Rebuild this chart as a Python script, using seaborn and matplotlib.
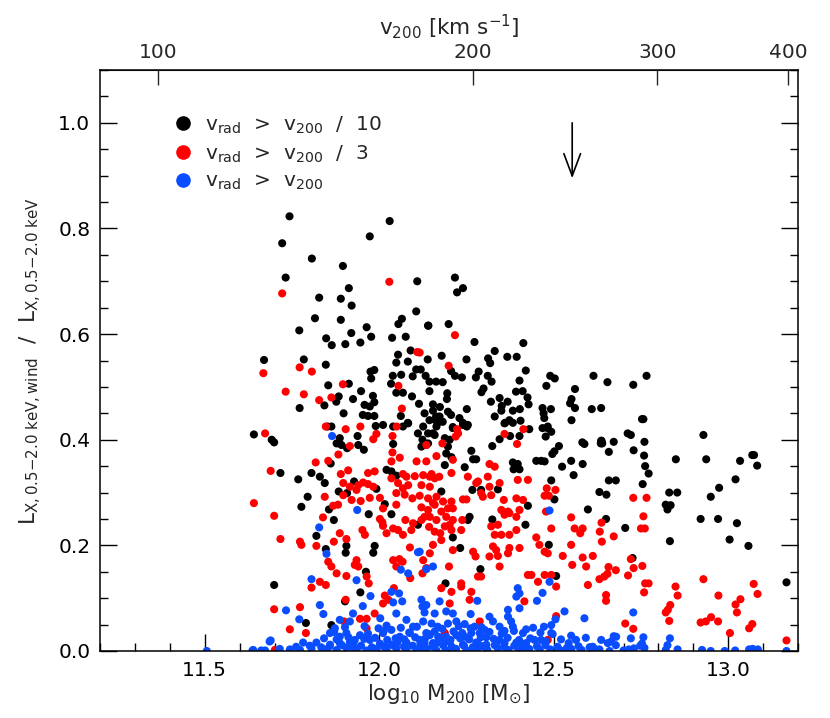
import numpy as np
import pandas as pd
import seaborn as sns
import matplotlib.pyplot as plt
from matplotlib.ticker import MultipleLocator, NullLocator
from matplotlib.lines import Line2D

# v_rad > v200/10
black_x = [11.743, 12.030, 11.973, 11.722, 11.807, 11.896, 11.732, 12.109, 11.913, 11.828, 11.890, 11.921,
           12.106, 11.816, 11.890, 12.065, 12.055, 12.140, 11.771, 11.964, 11.920, 11.848, 11.977, 12.037,
           12.076, 11.864, 11.903, 11.946, 11.670, 11.784, 11.847, 12.054, 12.090, 12.049, 12.082, 12.106,
           12.139, 11.986, 11.975, 11.977, 12.039, 12.063, 12.096, 12.133, 12.163, 11.854, 11.913, 12.034,
           12.068, 12.049, 11.884, 11.925, 11.948, 11.982, 12.094, 12.144, 11.772, 11.843, 11.877, 11.898,
           11.958, 11.973, 11.986, 12.114, 12.130, 12.154, 11.953, 11.968, 11.986, 12.062, 12.082, 12.144,
           12.163, 11.990, 12.040, 12.068, 11.852,
           12.217, 12.240, 12.223, 12.141, 12.199, 12.273, 12.413, 12.331, 12.179, 12.250, 12.312, 12.318,
           12.367, 12.394, 12.119, 12.206, 12.217, 12.237, 12.285, 12.277, 12.311, 12.322, 12.420, 12.144,
           12.182, 12.402, 12.490, 12.503, 12.614, 12.654, 12.479, 12.561, 12.195, 12.194, 12.299, 12.293,
           12.392, 12.411, 12.425, 12.345, 12.320, 12.368, 12.428, 12.551, 12.547, 12.154, 12.174, 12.251,
           12.351, 12.350, 12.331, 12.383, 12.403, 12.468, 12.471, 12.473, 12.492, 12.561, 12.609, 12.636,
           12.551, 12.173, 12.197, 12.206, 12.161, 12.182, 12.230, 12.240, 12.251, 12.211, 12.361, 12.373,
           12.405, 12.430, 12.468, 12.482,
           12.728, 12.766, 12.753, 12.757, 12.712, 12.721, 12.637, 12.635, 12.672, 12.760, 12.929, 12.658,
           12.729, 12.759, 12.850, 12.937, 13.034, 13.069, 13.074, 13.083, 12.762, 12.772, 12.658, 12.678,
           13.021, 12.755, 12.974, 12.631, 12.651, 12.831, 12.854, 12.950, 12.821, 12.835, 12.826, 12.650,
           12.921, 12.971, 13.025, 12.705, 12.833, 13.004, 13.058, 12.726, 13.167,
           11.641, 11.692, 11.699, 11.863, 11.887, 11.878, 11.892, 11.938, 11.940, 11.956, 11.908, 12.011,
           12.040, 12.083, 12.111, 12.124, 12.140, 12.121, 12.154, 12.164, 11.861, 11.717, 11.768, 11.806,
           11.830, 11.844, 11.928, 11.884, 11.908, 11.992, 12.021, 12.035, 12.049, 11.795, 11.777, 11.856,
           12.016, 11.970, 12.035, 11.870, 11.820, 12.111, 11.906, 11.904, 11.847, 11.987, 11.983, 11.962,
           11.699, 11.946, 11.902, 11.790, 11.863,
           12.126, 12.140, 12.135, 12.173, 12.159, 12.211, 12.240, 12.254, 12.188, 12.202, 12.197, 12.192,
           12.207, 12.188, 12.245, 12.264, 12.269, 12.278, 12.324, 12.345, 12.359, 12.383, 12.375, 12.402,
           12.383, 12.397, 12.385, 12.402, 12.450, 12.464, 12.474, 12.483, 12.493, 12.477, 12.515, 12.502,
           12.496, 12.550, 12.582, 12.588, 12.636, 12.639, 12.524, 12.583, 12.557, 12.493, 12.598, 12.502,
           12.426, 12.259, 12.254, 12.324, 12.419, 12.267, 12.292, 12.340, 12.178, 12.211, 12.232, 12.290,
           12.190, 12.486, 12.507]
black_y = [0.823, 0.814, 0.785, 0.772, 0.743, 0.729, 0.707, 0.700, 0.687, 0.669, 0.667, 0.654,
           0.643, 0.630, 0.627, 0.629, 0.619, 0.616, 0.607, 0.613, 0.602, 0.592, 0.595, 0.593,
           0.595, 0.579, 0.581, 0.584, 0.551, 0.552, 0.542, 0.561, 0.569, 0.546, 0.548, 0.533,
           0.552, 0.532, 0.529, 0.516, 0.521, 0.523, 0.520, 0.521, 0.510, 0.503, 0.506, 0.506,
           0.489, 0.489, 0.482, 0.477, 0.492, 0.483, 0.482, 0.492, 0.460, 0.465, 0.472, 0.450,
           0.466, 0.463, 0.471, 0.468, 0.450, 0.455, 0.447, 0.445, 0.445, 0.445, 0.432, 0.437,
           0.444, 0.426, 0.425, 0.425, 0.425,
           0.707, 0.687, 0.679, 0.616, 0.619, 0.585, 0.583, 0.568, 0.559, 0.552, 0.554, 0.545,
           0.557, 0.557, 0.533, 0.530, 0.521, 0.518, 0.529, 0.518, 0.521, 0.510, 0.531, 0.510,
           0.509, 0.512, 0.521, 0.516, 0.521, 0.509, 0.502, 0.496, 0.488, 0.477, 0.497, 0.490,
           0.491, 0.492, 0.480, 0.479, 0.472, 0.472, 0.467, 0.477, 0.469, 0.467, 0.462, 0.458,
           0.464, 0.455, 0.444, 0.455, 0.458, 0.460, 0.450, 0.441, 0.458, 0.460, 0.458, 0.460,
           0.437, 0.444, 0.453, 0.447, 0.437, 0.434, 0.441, 0.432, 0.425, 0.422, 0.432, 0.437,
           0.436, 0.420, 0.422, 0.422,
           0.504, 0.521, 0.439, 0.439, 0.412, 0.409, 0.398, 0.393, 0.396, 0.396, 0.409, 0.377,
           0.380, 0.370, 0.363, 0.363, 0.360, 0.371, 0.371, 0.351, 0.350, 0.336, 0.323, 0.323,
           0.325, 0.316, 0.309, 0.301, 0.296, 0.300, 0.300, 0.292, 0.277, 0.276, 0.268, 0.250,
           0.250, 0.250, 0.242, 0.233, 0.208, 0.211, 0.199, 0.176, 0.130,
           0.410, 0.400, 0.395, 0.425, 0.403, 0.393, 0.390, 0.407, 0.390, 0.381, 0.384, 0.428,
           0.392, 0.431, 0.412, 0.400, 0.393, 0.387, 0.412, 0.425, 0.355, 0.337, 0.325, 0.337,
           0.330, 0.318, 0.321, 0.302, 0.299, 0.307, 0.343, 0.340, 0.332, 0.292, 0.273, 0.268,
           0.278, 0.259, 0.259, 0.248, 0.218, 0.239, 0.199, 0.186, 0.193, 0.199, 0.186, 0.150,
           0.125, 0.111, 0.094, 0.053, 0.049,
           0.425, 0.412, 0.390, 0.434, 0.409, 0.424, 0.428, 0.428, 0.403, 0.400, 0.387, 0.374,
           0.367, 0.352, 0.348, 0.379, 0.363, 0.363, 0.388, 0.401, 0.431, 0.432, 0.407, 0.407,
           0.357, 0.354, 0.344, 0.344, 0.360, 0.360, 0.359, 0.425, 0.415, 0.406, 0.388, 0.378,
           0.373, 0.360, 0.395, 0.392, 0.398, 0.393, 0.349, 0.354, 0.333, 0.323, 0.268, 0.287,
           0.275, 0.254, 0.248, 0.249, 0.239, 0.305, 0.305, 0.306, 0.302, 0.215, 0.195, 0.155,
           0.128, 0.201, 0.142]

# v_rad > v200/3
red_x = [12.029, 11.722, 12.109, 11.668, 11.772, 11.807, 11.896, 12.055, 11.732, 11.784, 11.828, 11.863,
         12.065, 11.847, 11.946, 12.050, 12.217, 12.199, 12.116, 12.223, 12.413,
         12.728, 12.766, 12.757, 12.637, 12.750, 12.761, 12.632, 12.672, 12.638, 12.721, 12.657, 12.654,
         12.678, 12.729, 12.754, 12.713, 12.631, 12.929, 12.762, 12.772, 12.759, 12.849, 12.855, 12.650,
         12.650, 13.073, 13.084, 12.972, 13.035, 13.021, 13.025, 12.834, 12.821, 12.827, 12.831, 12.921,
         12.936, 12.951, 12.971, 13.069, 13.060, 13.005, 12.705, 12.728, 13.167,
         11.673, 11.904, 11.992, 12.038, 11.983, 11.916, 11.883, 11.854, 11.818, 12.038, 12.035, 12.059,
         12.107, 12.135, 12.164, 11.689, 11.890, 11.911, 11.968, 11.987, 12.035, 12.068, 12.078, 12.102,
         12.126, 12.150, 12.172, 11.897, 11.916, 11.940, 11.954, 11.968, 11.983, 11.935, 12.002, 12.054,
         12.068, 12.083, 12.073, 12.049, 12.121, 12.145, 11.844, 11.897, 11.921, 11.947, 11.973, 12.095,
         12.116, 12.140, 12.164, 11.641, 11.868, 11.882, 12.011, 12.049, 12.121, 12.140, 12.159, 11.699,
         11.839, 12.002, 12.009, 12.075, 12.097, 12.121, 12.145, 12.164, 11.887, 11.952, 11.959, 12.011,
         12.021, 12.040, 12.054, 12.092, 12.068, 12.143, 12.159, 11.717, 11.773, 11.777, 11.820, 11.870,
         11.906, 12.088, 12.154, 11.854, 11.863, 11.878, 11.906, 11.935, 11.930, 11.940, 11.964, 11.970,
         12.040, 12.058, 12.067, 12.049, 12.124, 12.135, 12.089, 11.830, 11.847, 11.806, 12.042, 12.016,
         12.026, 12.011, 11.904, 11.699, 11.773, 11.987, 11.945, 11.964, 11.899, 11.744, 11.790, 11.964,
         11.701,
         12.145, 12.159, 12.154, 12.130, 12.183, 12.207, 12.197, 12.178, 12.211, 12.192, 12.211, 12.202,
         12.188, 12.207, 12.175, 12.178, 12.235, 12.238, 12.145, 12.126, 12.200, 12.211, 12.178, 12.207,
         12.202, 12.235, 12.235, 12.259, 12.264, 12.240, 12.250, 12.226, 12.219, 12.181, 12.135, 12.211,
         12.207, 12.254, 12.278, 12.283, 12.311, 12.316, 12.292, 12.331, 12.345, 12.297, 12.321, 12.357,
         12.369, 12.350, 12.373, 12.359, 12.397, 12.426, 12.393, 12.412, 12.402, 12.393, 12.321, 12.340,
         12.350, 12.331, 12.373, 12.393, 12.373, 12.402, 12.326, 12.335, 12.316, 12.340, 12.369, 12.269,
         12.276, 12.345, 12.283, 12.292, 12.359, 12.395, 12.316, 12.480, 12.505, 12.474, 12.486, 12.478,
         12.450, 12.459, 12.483, 12.474, 12.526, 12.493, 12.426, 12.436, 12.474, 12.493, 12.507, 12.455,
         12.416, 12.550, 12.560, 12.583, 12.576, 12.550, 12.612, 12.583, 12.553, 12.593, 12.645, 12.598,
         12.507, 12.483, 12.288, 12.188]
red_y = [0.699, 0.677, 0.566, 0.526, 0.537, 0.529, 0.505, 0.502, 0.491, 0.486, 0.475, 0.480,
         0.459, 0.425, 0.425, 0.425, 0.598, 0.540, 0.565, 0.420, 0.420,
         0.290, 0.290, 0.255, 0.243, 0.232, 0.232, 0.226, 0.217, 0.207, 0.174, 0.159, 0.146,
         0.153, 0.157, 0.161, 0.143, 0.136, 0.136, 0.128, 0.128, 0.111, 0.122, 0.105, 0.106,
         0.095, 0.127, 0.108, 0.105, 0.098, 0.088, 0.073, 0.087, 0.073, 0.078, 0.057, 0.054,
         0.056, 0.064, 0.056, 0.051, 0.043, 0.034, 0.052, 0.042, 0.020,
         0.412, 0.420, 0.411, 0.407, 0.401, 0.388, 0.372, 0.360, 0.357, 0.376, 0.359, 0.366,
         0.359, 0.390, 0.369, 0.341, 0.335, 0.342, 0.337, 0.340, 0.327, 0.335, 0.330, 0.331,
         0.333, 0.335, 0.330, 0.318, 0.311, 0.314, 0.319, 0.316, 0.311, 0.305, 0.290, 0.318,
         0.308, 0.314, 0.296, 0.299, 0.314, 0.311, 0.292, 0.295, 0.286, 0.284, 0.290, 0.289,
         0.294, 0.289, 0.292, 0.280, 0.275, 0.277, 0.270, 0.277, 0.272, 0.267, 0.277, 0.256,
         0.253, 0.250, 0.244, 0.248, 0.242, 0.248, 0.254, 0.248, 0.223, 0.229, 0.220, 0.237,
         0.223, 0.232, 0.229, 0.229, 0.220, 0.235, 0.226, 0.212, 0.207, 0.201, 0.199, 0.207,
         0.212, 0.196, 0.201, 0.169, 0.160, 0.147, 0.142, 0.172, 0.163, 0.160, 0.141, 0.128,
         0.172, 0.174, 0.169, 0.160, 0.147, 0.157, 0.138, 0.131, 0.125, 0.120, 0.119, 0.105,
         0.097, 0.090, 0.097, 0.079, 0.083, 0.071, 0.061, 0.061, 0.056, 0.041, 0.034, 0.043,
         0.002,
         0.330, 0.327, 0.280, 0.254, 0.283, 0.283, 0.270, 0.264, 0.270, 0.254, 0.248, 0.239,
         0.236, 0.229, 0.223, 0.210, 0.229, 0.248, 0.185, 0.172, 0.160, 0.191, 0.119, 0.112,
         0.090, 0.128, 0.122, 0.097, 0.112, 0.287, 0.287, 0.412, 0.406, 0.393, 0.359, 0.362,
         0.337, 0.330, 0.318, 0.321, 0.330, 0.311, 0.299, 0.349, 0.318, 0.292, 0.295, 0.286,
         0.264, 0.267, 0.261, 0.258, 0.324, 0.324, 0.289, 0.286, 0.267, 0.254, 0.236, 0.239,
         0.220, 0.220, 0.220, 0.229, 0.195, 0.195, 0.198, 0.191, 0.179, 0.180, 0.185, 0.188,
         0.179, 0.160, 0.141, 0.141, 0.411, 0.392, 0.354, 0.308, 0.305, 0.294, 0.294, 0.264,
         0.215, 0.201, 0.185, 0.188, 0.180, 0.232, 0.144, 0.144, 0.144, 0.144, 0.122, 0.131,
         0.094, 0.253, 0.232, 0.232, 0.223, 0.201, 0.180, 0.177, 0.163, 0.160, 0.141, 0.125,
         0.066, 0.021, 0.056, 0.034]

# v_rad > v200
blue_x = [11.865, 11.937, 11.828, 11.849, 12.111, 12.062, 12.083, 12.154, 11.935, 11.806, 11.975, 12.035,
          12.057, 12.040, 12.066, 12.121, 12.124, 12.130, 11.830, 11.733, 11.840, 11.887, 11.925, 11.916,
          12.049, 12.078, 12.097, 12.126, 12.150, 12.159, 11.859, 11.873, 11.887, 11.906, 11.930, 11.945,
          11.973, 11.689, 11.782, 11.820, 12.011, 12.035, 12.059, 12.088, 12.116, 12.145, 12.169,
          11.639, 11.673, 11.715, 11.744, 11.773, 11.806, 11.849, 11.878, 11.906, 11.935, 11.964, 11.992,
          12.021, 12.049, 12.078, 12.107, 12.135, 12.164,
          11.859, 11.887, 11.916, 12.002, 12.030, 12.078, 12.126, 12.154,
          12.135, 12.116, 12.488, 12.488, 12.397, 12.402, 12.393, 12.402, 12.369, 12.369, 12.378, 12.383,
          12.316, 12.326, 12.345, 12.359, 12.302, 12.288, 12.307, 12.588, 12.505, 12.493, 12.493, 12.478,
          12.135, 12.173, 12.192, 12.211, 12.168, 12.197, 12.221, 12.245, 12.273, 12.135, 12.159, 12.192,
          12.221, 12.245, 12.264, 12.421, 12.412, 12.445, 12.464, 12.345, 12.359, 12.393, 12.421, 12.550,
          12.564, 12.612, 12.636, 12.665, 12.679,
          12.130, 12.164, 12.202, 12.240, 12.278, 12.307,
          12.190, 12.220, 12.250, 12.280, 12.310, 12.340, 12.370, 12.400, 12.430, 12.460, 12.490, 12.520,
          12.550, 12.580, 12.620,
          12.728, 12.672, 12.721, 12.757, 12.753, 12.760, 12.748, 12.833, 12.826, 12.821, 12.655, 12.678,
          12.631, 12.660, 12.700, 12.715, 12.730, 12.855, 12.925, 12.950, 12.990, 13.020, 13.060, 13.070,
          13.085, 13.167, 11.506, 11.637, 11.662, 11.686,
          11.762, 11.801, 11.834, 11.858, 11.893, 11.921, 11.948, 11.979, 12.012, 12.038, 12.071, 12.096,
          12.118, 12.152, 12.183, 12.208, 12.243, 12.268, 12.296, 12.331, 12.358, 12.387, 12.418, 12.452,
          12.476, 12.511, 12.538, 12.571, 12.603,
          11.842, 11.878, 11.912, 11.957, 11.988, 12.023, 12.047, 12.072, 12.103, 12.131, 12.177, 12.204,
          12.232, 12.258, 12.291, 12.328, 12.368, 12.401, 12.433, 12.521, 12.592,
          11.902, 11.958, 11.998, 12.021, 12.062, 12.108, 12.181, 12.228, 12.262, 12.293, 12.441, 12.472,
          11.771, 11.953, 12.003, 12.262, 12.281, 12.452, 12.531, 12.468,
          11.871, 11.968, 12.013, 12.086, 12.142, 12.213, 12.238, 12.316, 12.351, 12.386, 12.462, 12.497,
          11.926, 12.052, 12.118, 12.187, 12.283, 12.337, 12.408, 12.543]
blue_y = [0.407, 0.267, 0.234, 0.184, 0.187, 0.154, 0.147, 0.160, 0.134, 0.136, 0.104, 0.112,
          0.109, 0.092, 0.094, 0.097, 0.084, 0.073, 0.087, 0.077, 0.070, 0.059, 0.071, 0.056,
          0.071, 0.059, 0.046, 0.056, 0.052, 0.071, 0.034, 0.043, 0.027, 0.034, 0.021, 0.030,
          0.021, 0.020, 0.016, 0.016, 0.034, 0.040, 0.027, 0.034, 0.021, 0.030, 0.027,
          0.002, 0.001, 0.004, 0.003, 0.002, 0.005, 0.003, 0.002, 0.006, 0.003, 0.001, 0.004,
          0.002, 0.005, 0.003, 0.002, 0.004, 0.001,
          0.012, 0.015, 0.017, 0.014, 0.013, 0.016, 0.012, 0.015,
          0.155, 0.188, 0.266, 0.131, 0.119, 0.109, 0.103, 0.081, 0.078, 0.065, 0.056, 0.046,
          0.065, 0.056, 0.046, 0.038, 0.040, 0.034, 0.026, 0.062, 0.060, 0.049, 0.034, 0.018,
          0.087, 0.094, 0.075, 0.071, 0.046, 0.052, 0.056, 0.051, 0.046, 0.034, 0.037, 0.027,
          0.030, 0.027, 0.034, 0.041, 0.034, 0.021, 0.021, 0.021, 0.015, 0.016, 0.015, 0.029,
          0.021, 0.008, 0.021, 0.018, 0.027,
          0.015, 0.015, 0.017, 0.012, 0.016, 0.012,
          0.002, 0.004, 0.001, 0.003, 0.002, 0.005, 0.002, 0.001, 0.004, 0.002, 0.003, 0.001,
          0.004, 0.002, 0.003,
          0.073, 0.028, 0.024, 0.026, 0.014, 0.006, 0.010, 0.024, 0.011, 0.002, 0.015, 0.011,
          0.003, 0.000, 0.001, 0.003, 0.005, 0.003, 0.002, 0.000, 0.000, 0.001, 0.003, 0.004,
          0.003, 0.000, 0.000, 0.001, 0.001, 0.018,
          0.008, 0.010, 0.007, 0.009, 0.011, 0.008, 0.010, 0.007, 0.009, 0.011, 0.008, 0.010,
          0.006, 0.009, 0.011, 0.008, 0.010, 0.007, 0.009, 0.011, 0.008, 0.010, 0.007, 0.009,
          0.011, 0.008, 0.006, 0.009, 0.007,
          0.024, 0.022, 0.026, 0.023, 0.025, 0.021, 0.024, 0.022, 0.026, 0.023, 0.025, 0.021,
          0.024, 0.022, 0.026, 0.023, 0.025, 0.021, 0.024, 0.022, 0.025,
          0.045, 0.047, 0.043, 0.048, 0.044, 0.046, 0.042, 0.047, 0.043, 0.045, 0.044, 0.046,
          0.060, 0.085, 0.062, 0.070, 0.095, 0.095, 0.075, 0.110,
          0.036, 0.033, 0.038, 0.035, 0.032, 0.037, 0.034, 0.036, 0.033, 0.038, 0.035, 0.032,
          0.014, 0.016, 0.013, 0.017, 0.014, 0.016, 0.013, 0.015]

labels = [r"v$_{\rm rad}$  >  v$_{200}$  /  10", r"v$_{\rm rad}$  >  v$_{200}$  /  3", r"v$_{\rm rad}$  >  v$_{200}$"]
colors = ["#000000", "#ff0000", "#0a4dff"]

# log10 M200 = 3 log10 v200 + c
vm_offset = 5.366
arrow_x = 12.553

df = pd.concat([
    pd.DataFrame({"logM": black_x, "ratio": black_y, "sel": labels[0]}),
    pd.DataFrame({"logM": red_x, "ratio": red_y, "sel": labels[1]}),
    pd.DataFrame({"logM": blue_x, "ratio": blue_y, "sel": labels[2]}),
], ignore_index=True)

sns.set_style("ticks")
plt.rcParams['font.family'] = ['DejaVu Sans']
plt.rcParams['mathtext.fontset'] = 'dejavusans'

fig = plt.figure(figsize=(8.3, 7.18), dpi=100)
ax = fig.add_axes([100 / 830, 67 / 718, 698 / 830, 581 / 718])

sns.scatterplot(data=df, x="logM", y="ratio", hue="sel", palette=dict(zip(labels, colors)),
                s=34, linewidth=0, edgecolor="none", legend=False, ax=ax)

ax.set_xlim(11.2, 13.2)
ax.set_ylim(0, 1.1)
ax.xaxis.set_major_locator(MultipleLocator(0.5))
ax.xaxis.set_minor_locator(MultipleLocator(0.1))
ax.yaxis.set_major_locator(MultipleLocator(0.2))
ax.yaxis.set_minor_locator(MultipleLocator(0.05))
ax.xaxis.set_major_formatter(plt.FormatStrFormatter('%.1f'))
ax.yaxis.set_major_formatter(plt.FormatStrFormatter('%.1f'))
ax.tick_params(which='both', direction='in', top=False, right=True, width=1, colors='black',
               labelsize=14.5)
ax.tick_params(which='major', length=12, pad=7)
ax.tick_params(which='minor', length=6)
for sp in ax.spines.values():
    sp.set_linewidth(1.1)
    sp.set_color('black')

ax.set_xlabel(r"log$_{10}$ M$_{200}$ [M$_{\odot}$]", fontsize=15.5, labelpad=2)
ax.set_ylabel(r"L$_{\rm X,0.5{-}2.0\ keV,wind}$  /  L$_{\rm X,0.5{-}2.0\ keV}$", fontsize=15.5, labelpad=10)

secax = ax.secondary_xaxis('top', functions=(lambda m: 10 ** ((m - vm_offset) / 3.0),
                                             lambda v: 3.0 * np.log10(np.clip(v, 1e-3, None)) + vm_offset))
secax.set_xticks([100, 200, 300, 400])
secax.set_xticklabels(['100', '200', '300', '400'])
secax.xaxis.set_minor_locator(NullLocator())
secax.tick_params(direction='in', length=11, width=1, labelsize=14.5, pad=6)
secax.set_xlabel(r"v$_{200}$ [km s$^{-1}$]", fontsize=15.5, labelpad=6)

ax.annotate("", xy=(arrow_x, 0.895), xytext=(arrow_x, 1.0),
            arrowprops=dict(arrowstyle='->, head_length=0.8, head_width=0.3', color='black', lw=1.2,
                            shrinkA=0, shrinkB=0, mutation_scale=20))

handles = [Line2D([], [], marker='o', ls='', color=c, markersize=9.5) for c in colors]
ax.legend(handles, labels, loc='upper left', bbox_to_anchor=(0.078, 0.955), frameon=False,
          fontsize=14.5, handletextpad=0.6, labelspacing=0.38, handlelength=1.0)

fig.savefig("out.png", dpi=100)
